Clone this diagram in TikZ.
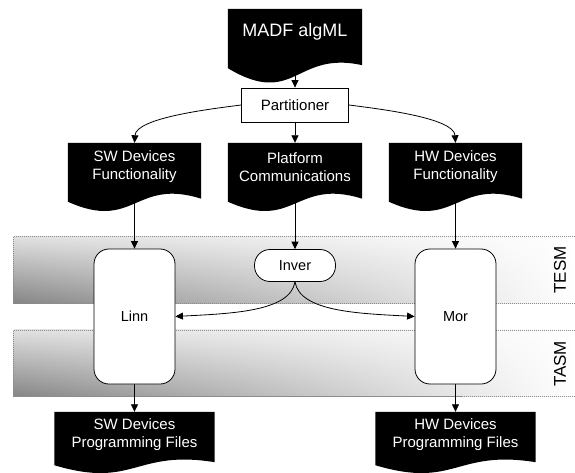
\documentclass[tikz,border=0pt]{standalone}
\usepackage{fontspec}
\setmainfont{Liberation Sans}
\usetikzlibrary{arrows.meta,fadings,calc}
\pgfdeclarelayer{background}
\pgfsetlayers{background,main}
\tikzfading[name=fadeR, left color=transparent!0, right color=transparent!100]
% #1 node, #2 shift of wave base (negative), #3 downward control, #4 upward control
\newcommand\docfill[4]{%
  \fill[black] (#1.north west) -- (#1.north east) -- ([yshift=#2+3pt]#1.south east)
    .. controls ([yshift=#2+#4]#1.south) and ([yshift=#2-#3]#1.south) .. ([yshift=#2]#1.south west) -- cycle;}
\begin{document}
\begin{tikzpicture}[x=1pt,y=-1pt,
  docnode/.style={text=white, align=center, inner sep=0pt, font=\fontsize{15}{18}\selectfont},
  plainbox/.style={draw, line width=0.8pt, fill=white, minimum width=107pt, minimum height=34pt, inner sep=0pt, font=\fontsize{15}{18}\selectfont},
  rbox/.style={draw, line width=0.8pt, fill=white, rounded corners=15pt, minimum width=81pt, minimum height=135pt, inner sep=0pt, font=\fontsize{14.5}{17}\selectfont},
  ibox/.style={draw, line width=0.8pt, fill=white, rounded corners=15.5pt, minimum width=81pt, minimum height=32pt, inner sep=0pt, font=\fontsize{14.5}{17}\selectfont},
  sidelabel/.style={rotate=90, inner sep=0pt, font=\fontsize{17}{20}\selectfont},
  arr/.style={line width=0.8pt, -{Triangle[length=7.5pt,width=7pt]}},
  bandedge/.style={black!45, line width=0.5pt, dash pattern=on 1.2pt off 0.8pt}
]
\useasboundingbox (0,0) rectangle (575,473);

% bands
\begin{pgfonlayer}{background}
  \shade[top color=black!12, bottom color=black!48, path fading=fadeR] (13.6,236.7) rectangle (575,303.3);
  \shade[top color=black!12, bottom color=black!48, path fading=fadeR] (13.6,330) rectangle (575,396.7);
  \draw[bandedge] (575,236.7) -- (13.6,236.7) -- (13.6,303.3) -- (575,303.3);
  \draw[bandedge] (575,330) -- (13.6,330) -- (13.6,396.7) -- (575,396.7);
\end{pgfonlayer}

% nodes
\node[docnode, minimum width=134pt, minimum height=46pt, font=\fontsize{18}{21}\selectfont] (madf) at (295,32) {MADF algML};
\node[plainbox] (part) at (295,105) {Partitioner};
\node[docnode, minimum width=133pt, minimum height=48pt] (swf) at (134.5,167) {SW Devices\\Functionality};
\node[docnode, minimum width=134pt, minimum height=48pt] (pcom) at (295,167) {Platform\\Communications};
\node[docnode, minimum width=133pt, minimum height=48pt] (hwf) at (455.5,167) {HW Devices\\Functionality};
\node[rbox] (linn) at (134.5,316.5) {Linn};
\node[ibox] (inver) at (295,265.5) {Inver};
\node[rbox] (mor) at (455.5,316.5) {Mor};
\node[docnode, minimum width=160pt, minimum height=46pt] (swp) at (134.5,435) {SW Devices\\Programming Files};
\node[docnode, minimum width=160pt, minimum height=46pt] (hwp) at (455.5,435) {HW Devices\\Programming Files};
\node[sidelabel] (tesm) at (560,270) {TESM};
\node[sidelabel] (tasm) at (560,364) {TASM};

\begin{pgfonlayer}{background}
  \docfill{madf}{-13pt}{40pt}{18pt}
  \docfill{swf}{-10.5pt}{30pt}{24pt}
  \docfill{pcom}{-10.5pt}{30pt}{24pt}
  \docfill{hwf}{-10.5pt}{30pt}{24pt}
  \docfill{swp}{-7pt}{24pt}{16pt}
  \docfill{hwp}{-7pt}{24pt}{16pt}
\end{pgfonlayer}

% connectors
\draw[arr] (madf.south) -- (part.north);
\draw[arr] (part.west) .. controls +(-31,4) and +(1.5,-25) .. (swf.north);
\draw[arr] (part.east) .. controls +(31,4) and +(-1.5,-25) .. (hwf.north);
\draw[arr] (part.south) -- (pcom.north);
\draw[arr] (swf.south) -- (linn.north);
\draw[arr] (pcom.south) -- (inver.north);
\draw[arr] (hwf.south) -- (mor.north);
\draw[arr] (inver.south) .. controls +(-5,30) and +(55,-3) .. (linn.east);
\draw[arr] (inver.south) .. controls +(5,30) and +(-55,-3) .. (mor.west);
\draw[arr] (linn.south) -- (swp.north);
\draw[arr] (mor.south) -- (hwp.north);
\end{tikzpicture}
\end{document}
